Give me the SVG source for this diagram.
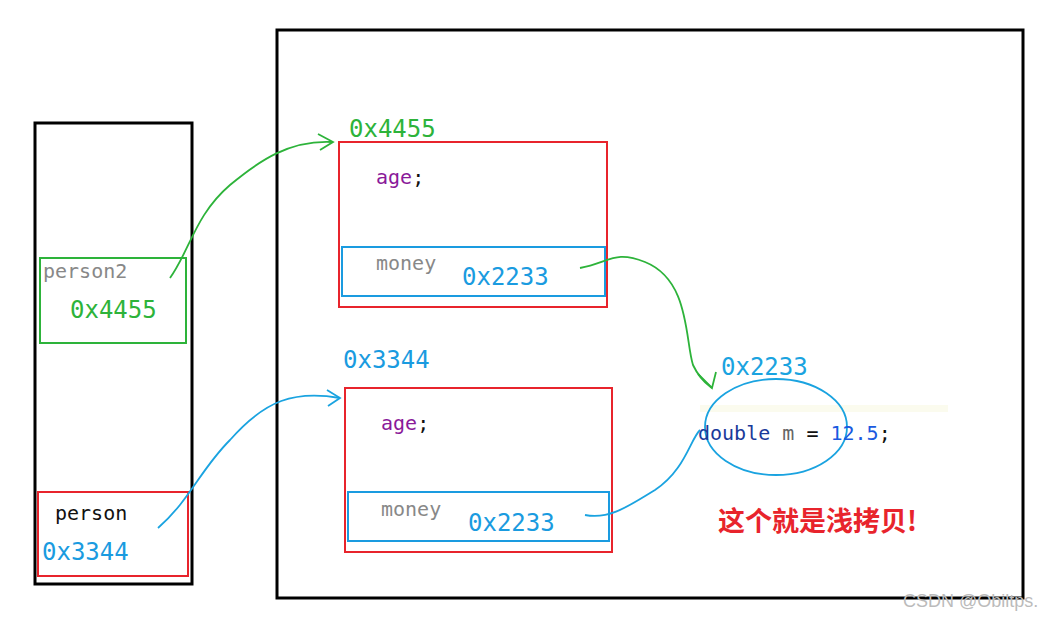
<svg xmlns="http://www.w3.org/2000/svg" width="1055" height="620" viewBox="0 0 1055 620">
<style>
.mono{font-family:"DejaVu Sans Mono",monospace;font-size:20px}
.hex{font-size:24px}
.frame{fill:none;stroke:#000;stroke-width:3}
.red{fill:none;stroke:#e8242c;stroke-width:2}
.blue{fill:none;stroke:#1a9be0;stroke-width:2}
.g{fill:none;stroke:#2db33a;stroke-width:1.8}
.b{fill:none;stroke:#1aa3e0;stroke-width:1.8}
</style>
<rect width="1055" height="620" fill="#fff"/>
<g id="stack"><rect class="frame" x="35" y="123" width="157" height="461"/></g>
<g id="heap"><rect class="frame" x="277" y="30" width="746" height="568"/></g>
<g id="person2">
<rect x="40" y="258" width="146" height="85" fill="none" stroke="#2db33a" stroke-width="2"/>
<text class="mono" x="43" y="278" fill="#888">person2</text>
<text class="mono hex" x="70" y="318" fill="#2db33a">0x4455</text>
</g>
<g id="person">
<rect class="red" x="38" y="492" width="150" height="84"/>
<text class="mono" x="55" y="520" fill="#111">person</text>
<text class="mono hex" x="42" y="560" fill="#1a9be0">0x3344</text>
</g>
<g id="obj1">
<text class="mono hex" x="349" y="137" fill="#2db33a">0x4455</text>
<rect class="red" x="339" y="142" width="268" height="165"/>
<text class="mono" x="376" y="184" fill="#8a1a9a">age<tspan fill="#111">;</tspan></text>
<rect class="blue" x="342" y="247" width="263" height="49"/>
<text class="mono" x="376" y="270" fill="#888">money</text>
<text class="mono hex" x="462" y="285" fill="#1a9be0">0x2233</text>
</g>
<g id="obj2">
<text class="mono hex" x="343" y="368" fill="#1a9be0">0x3344</text>
<rect class="red" x="345" y="388" width="267" height="164"/>
<text class="mono" x="381" y="430" fill="#8a1a9a">age<tspan fill="#111">;</tspan></text>
<rect class="blue" x="348" y="492" width="261" height="49"/>
<text class="mono" x="381" y="516" fill="#888">money</text>
<text class="mono hex" x="468" y="531" fill="#1a9be0">0x2233</text>
</g>
<g id="double">
<text class="mono hex" x="721" y="375" fill="#1aa3e0">0x2233</text>
<rect x="700" y="405" width="248" height="7" fill="#fbfbee"/>
<ellipse class="b" cx="776" cy="427" rx="71" ry="48"/>
<text class="mono" x="698" y="440" fill="#111"><tspan fill="#1a3a9a">double</tspan> <tspan fill="#666">m</tspan> = <tspan fill="#1a5ae0">12.5</tspan>;</text>
</g>
<text x="718" y="531" font-family="'Noto Sans CJK SC',sans-serif" font-weight="bold" font-size="27" fill="#e8242c">这个就是浅拷贝!</text>
<text x="903" y="607" font-family="'Liberation Sans',sans-serif" font-size="18" fill="#bbb">CSDN @Obiltps.</text>
<g id="connectors">
<path class="g" d="M170 278 C190 250 195 215 230 185 C260 160 290 140 332 142"/>
<path class="g" d="M318 134 L333 142 L320 150"/>
<path class="g" d="M580 268 C610 262 615 250 645 262 C690 280 685 340 693 365 C700 380 708 385 712 388"/>
<path class="g" d="M698 374 L712 388 L716 372"/>
<path class="b" d="M158 528 C190 500 200 470 230 440 C265 400 295 390 340 398"/>
<path class="b" d="M327 390 L340 398 L328 406"/>
<path class="b" d="M585 515 C610 520 630 505 655 490 C685 470 690 440 700 430"/>
</g>
</svg>
